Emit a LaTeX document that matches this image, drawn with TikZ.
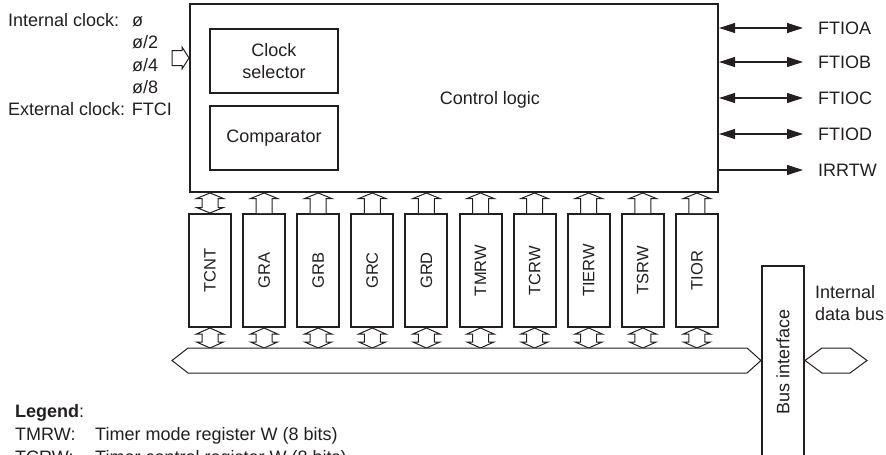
\documentclass[tikz,border=0pt]{standalone}
\usepackage{fontspec}
\setmainfont{Liberation Sans}
\usepackage{xcolor}
\definecolor{ink}{RGB}{35,31,32}
\usetikzlibrary{arrows.meta, positioning, calc}

\begin{document}
\begin{tikzpicture}[x=1pt, y=-1pt,
        txt/.style={font=\fontsize{18}{22}\selectfont, text=ink, inner sep=0pt},
        blk/.style={draw=ink, line width=2pt, inner sep=0pt, align=center,
                    font=\fontsize{18}{22}\selectfont, text=ink},
        reg/.style={blk, minimum width=42pt, minimum height=113pt,
                    font=\fontsize{16.5}{20}\selectfont},
        hollow/.style={draw=ink, line width=1pt, fill=white, line join=miter},
        sig/.style={draw=ink, line width=1.1pt,
                    {Triangle[length=16pt,width=10pt]}-{Triangle[length=16pt,width=10pt]}},
        outsig/.style={draw=ink, line width=1.1pt, -{Triangle[length=16pt,width=10pt]}}
      ]
        \useasboundingbox (0,0) rectangle (886,455);
        \node[blk, line width=2.2pt, minimum width=528pt, minimum height=188pt] (logic) at (454,98) {};
        \node[txt] (ctl) at (490,100) {Control logic};
        \node[blk, minimum width=128pt, minimum height=64pt] (clksel) at (274,61) {Clock\\selector};
        \node[blk, minimum width=128pt, minimum height=64pt] (cmp) at (274,138) {Comparator};
        \node[txt, anchor=base west] (intclk) at (8,26) {Internal clock:};
        \node[txt, anchor=base west] (phi1) at (132,26) {ø};
        \node[txt, anchor=base west] (phi2) at (132,48) {ø/2};
        \node[txt, anchor=base west] (phi4) at (132,71) {ø/4};
        \node[txt, anchor=base west] (phi8) at (132,93) {ø/8};
        \node[txt, anchor=base west] (extclk) at (8,115) {External clock: FTCI};
        \coordinate (clkin) at (189,58);
        \draw[hollow] (clkin) -- ++(-7,-11) -- ++(0,3.5) -- ++(-10,0) -- ++(0,15)
          -- ++(10,0) -- ++(0,3.5) -- cycle;
        \foreach \p/\y in {FTIOA/28, FTIOB/62, FTIOC/98, FTIOD/134} {
          \node[txt, anchor=west] (\p) at (818,\y) {\p};
          \draw[sig] (logic.east |- \p.west) -- ([xshift=-15pt]\p.west);
        }
        \node[txt, anchor=west] (IRRTW) at (818,170) {IRRTW};
        \draw[outsig] (logic.east |- IRRTW.west) -- ([xshift=-15pt]IRRTW.west);
        \foreach \r [count=\i from 0] in {TCNT,GRA,GRB,GRC,GRD,TMRW,TCRW,TIERW,TSRW,TIOR} {
          \node[reg] (r\i) at (210+54.1*\i,270.5) {\rotatebox{90}{\r}};
          \draw[hollow] (r\i.south) -- ++(13.5,6) -- ++(-5.5,0) -- ++(0,8) -- ++(5.5,0)
            -- ++(-13.5,6) -- ++(-13.5,-6) -- ++(5.5,0) -- ++(0,-8) -- ++(-5.5,0) -- cycle;
        }
        \draw[hollow] (r0.north) -- ++(13.5,-5.5) -- ++(-5.5,0) -- ++(0,-9) -- ++(5.5,0)
          -- ++(-13.5,-5.5) -- ++(-13.5,5.5) -- ++(5.5,0) -- ++(0,9) -- ++(-5.5,0) -- cycle;
        \foreach \i in {1,...,9}
          \draw[hollow] (r\i.north) ++(-8,0) -- ++(0,-14.5) -- ++(-5.5,0) -- ++(13.5,-5.5)
            -- ++(13.5,5.5) -- ++(-5.5,0) -- ++(0,14.5);
        \node[blk, minimum width=42pt, minimum height=192pt] (busif) at (783,362)
          {\rotatebox{90}{Bus interface}};
        \draw[hollow] (172,360.5) -- (188,348) -- (747,348) -- (busif.west |- 0,360.5)
          -- (747,373) -- (188,373) -- cycle;
        \draw[hollow] (busif.east |- 0,360.5) -- (822,348) -- (850,348) -- (867,360.5)
          -- (850,373) -- (822,373) -- cycle;
        \node[txt, anchor=base west, align=left] (ibus) at (815,320) {Internal\\data bus};
        \node[txt, anchor=base west] (legend) at (15,417) {\textbf{Legend}:};
        \node[txt, anchor=base west] (k1) at (15,440) {TMRW:};
        \node[txt, anchor=base west] (v1) at (95,440) {Timer mode register W (8 bits)};
        \node[txt, anchor=base west] (k2) at (15,463) {TCRW:};
        \node[txt, anchor=base west] (v2) at (95,463) {Timer control register W (8 bits)};
      \end{tikzpicture}
\end{document}
